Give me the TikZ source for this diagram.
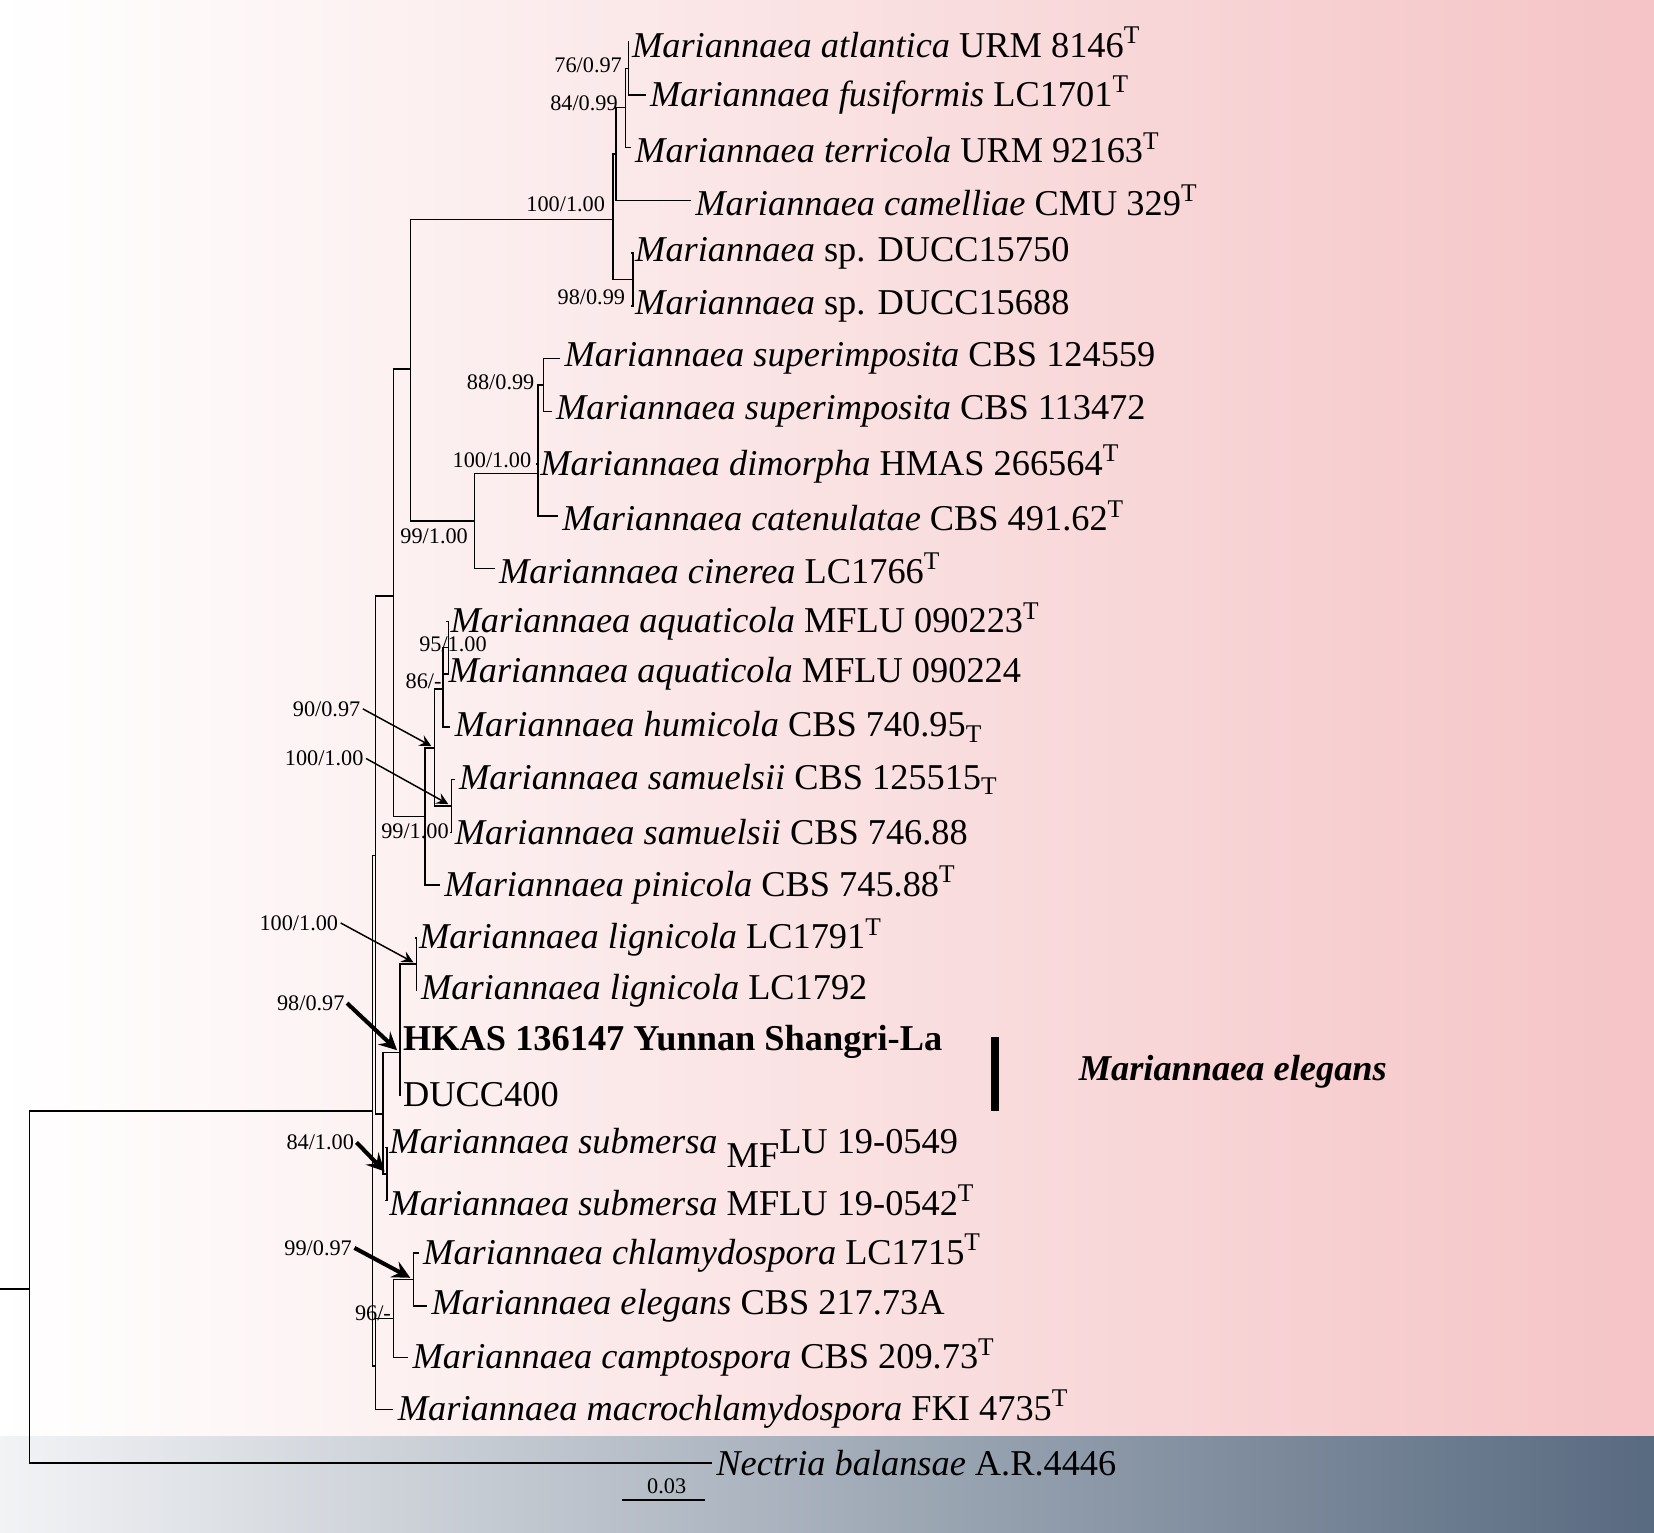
\documentclass[tikz,border=0pt]{standalone}
\usepackage{fontspec}
\setmainfont{Liberation Serif}
\usetikzlibrary{positioning}
\definecolor{rosebg}{RGB}{245,196,198}
\definecolor{slatebg}{RGB}{88,106,128}
\definecolor{mistbg}{RGB}{242,243,245}
\newcommand{\Mar}[1]{\textit{Mariannaea #1}}

\begin{document}
\begin{tikzpicture}[x=0.01cm,y=-0.01cm,>=stealth,thin,
  tip/.style={anchor=west,inner sep=1pt,font=\fontsize{9.8}{11}\selectfont},
  sup/.style={inner sep=0.5pt,font=\fontsize{6}{7}\selectfont},
  pt/.style={->,shorten >=1pt},
  bigpt/.style={->,line width=1.1pt,shorten >=1pt}]

  \useasboundingbox (0,0) rectangle (1568,1453);
  % backgrounds
  \shade[left color=white,right color=rosebg] (0,0) rectangle (1568,1362);
  \shade[left color=mistbg,right color=slatebg] (0,1362) rectangle (1568,1453);

  % tips
  \node[tip] (t1) at (595,40) {\Mar{atlantica} URM 8146\textsuperscript{T}};
  \node[tip] (t2) at (612,90) {\Mar{fusiformis} LC1701\textsuperscript{T}};
  \node[tip] (t3) at (598,140) {\Mar{terricola} URM 92163\textsuperscript{T}};
  \node[tip] (t4) at (655,190) {\Mar{camelliae} CMU 329\textsuperscript{T}};
  \node[tip] (t5) at (598,240) {\textit{Mariannaea} sp. DUCC15750};
  \node[tip] (t6) at (598,290) {\textit{Mariannaea} sp. DUCC15688};
  \node[tip] (t7) at (531,340) {\Mar{superimposita} CBS 124559};
  \node[tip] (t8) at (523,390) {\Mar{superimposita} CBS 113472};
  \node[tip] (t9) at (508,440) {\Mar{dimorpha} HMAS 266564\textsuperscript{T}};
  \node[tip] (t10) at (529,489) {\Mar{catenulatae} CBS 491.62\textsuperscript{T}};
  \node[tip] (t11) at (469,539) {\Mar{cinerea} LC1766\textsuperscript{T}};
  \node[tip] (t12) at (423,589) {\Mar{aquaticola} MFLU 090223\textsuperscript{T}};
  \node[tip] (t13) at (421,639) {\Mar{aquaticola} MFLU 090224};
  \node[tip] (t14) at (427,689) {\Mar{humicola} CBS 740.95\textsubscript{T}};
  \node[tip] (t15) at (431,739) {\Mar{samuelsii} CBS 125515\textsubscript{T}};
  \node[tip] (t16) at (427,789) {\Mar{samuelsii} CBS 746.88};
  \node[tip] (t17) at (417,839) {\Mar{pinicola} CBS 745.88\textsuperscript{T}};
  \node[tip] (t18) at (393,889) {\Mar{lignicola} LC1791\textsuperscript{T}};
  \node[tip] (t19) at (395,939) {\Mar{lignicola} LC1792};
  \node[tip] (t20) at (378,988) {\textbf{HKAS 136147 Yunnan Shangri-La}};
  \node[tip] (t21) at (378,1038) {DUCC400};
  \node[tip] (t22) at (365,1088) {\Mar{submersa} \raisebox{-0.4em}{MF}LU 19-0549};
  \node[tip] (t23) at (365,1138) {\Mar{submersa} MFLU 19-0542\textsuperscript{T}};
  \node[tip] (t24) at (397,1188) {\Mar{chlamydospora} LC1715\textsuperscript{T}};
  \node[tip] (t25) at (405,1238) {\Mar{elegans} CBS 217.73A};
  \node[tip] (t26) at (387,1287) {\Mar{camptospora} CBS 209.73\textsuperscript{T}};
  \node[tip] (t27) at (373,1336) {\Mar{macrochlamydospora} FKI 4735\textsuperscript{T}};
  \node[tip] (t28) at (675,1387) {\textit{Nectria balansae} A.R.4446};

  % internal nodes
  \coordinate (a) at (596,65);
  \coordinate (b) at (593,102);
  \coordinate (c) at (584,146);
  \coordinate (d) at (600,265);
  \coordinate (e) at (581,208);
  \coordinate (f) at (389,350);
  \coordinate (i) at (515,365);
  \coordinate (h) at (510,449);
  \coordinate (g) at (450,494);
  \coordinate (o) at (425,614);
  \coordinate (m) at (420,653);
  \coordinate (n) at (428,764);
  \coordinate (l) at (412,709);
  \coordinate (k) at (403,774);
  \coordinate (j) at (373,565);
  \coordinate (v) at (395,914);
  \coordinate (tt) at (379,998);
  \coordinate (u) at (367,1113);
  \coordinate (s) at (363,1056);
  \coordinate (q) at (356,811);
  \coordinate (x) at (392,1213);
  \coordinate (w) at (373,1250);
  \coordinate (r) at (356,1295);
  \coordinate (p) at (353,1053);
  \coordinate (root) at (28,1222);
  \coordinate (base) at (0,1222);

  % branches
  \draw (a) |- (t1.west) (a) |- (t2.west);
  \draw (b) |- (a) (b) |- (t3.west);
  \draw (c) |- (b) (c) |- (t4.west);
  \draw (d) |- (t5.west) (d) |- (t6.west);
  \draw (e) |- (c) (e) |- (d);
  \draw (i) |- (t7.west) (i) |- (t8.west);
  \draw (h) |- (i) (h) |- (t9.west) (h) |- (t10.west);
  \draw (g) |- (h) (g) |- (t11.west);
  \draw (f) |- (e) (f) |- (g);
  \draw (o) |- (t12.west) (o) |- (t13.west);
  \draw (m) |- (o) (m) |- (t14.west);
  \draw (n) |- (t15.west) (n) |- (t16.west);
  \draw (l) |- (m) (l) |- (n);
  \draw (k) |- (l) (k) |- (t17.west);
  \draw (j) |- (f) (j) |- (k);
  \draw (v) |- (t18.west) (v) |- (t19.west);
  \draw (tt) |- (v) (tt) |- (t20.west) (tt) |- (t21.west);
  \draw (u) |- (t22.west) (u) |- (t23.west);
  \draw (s) |- (tt) (s) |- (u);
  \draw (q) |- (j) (q) |- (s);
  \draw (x) |- (t24.west) (x) |- (t25.west);
  \draw (w) |- (x) (w) |- (t26.west);
  \draw (r) |- (w) (r) |- (t27.west);
  \draw (p) |- (q) (p) |- (r);
  \draw (root) |- (p) (root) |- (t28.west);
  \draw (base) -- (root);

  % support values
  \node[sup,anchor=east] at (592,62) {76/0.97};
  \node[sup,anchor=east] at (588,98) {84/0.99};
  \node[sup,anchor=east] at (576,194) {100/1.00};
  \node[sup,anchor=east] at (595,282) {98/0.99};
  \node[sup,anchor=east] at (509,362) {88/0.99};
  \node[sup,anchor=east] at (506,436) {100/1.00};
  \node[sup,anchor=east] at (446,508) {99/1.00};
  \node[sup,anchor=west] at (395,611) {95/1.00};
  \node[sup,anchor=east] at (421,646) {86/-};
  \node[sup,anchor=west] at (359,788) {99/1.00};
  \node[sup,anchor=east] at (373,1245) {96/-};

  \node[sup,anchor=east] (sl) at (344,672) {90/0.97};
  \node[sup,anchor=east] (sn) at (347,719) {100/1.00};
  \node[sup,anchor=east] (sv) at (323,875) {100/1.00};
  \node[sup,anchor=east] (st) at (329,951) {98/0.97};
  \node[sup,anchor=east] (su) at (338,1083) {84/1.00};
  \node[sup,anchor=east] (sx) at (336,1183) {99/0.97};
  \draw[pt] (sl.east) -- (l);
  \draw[pt] (sn.east) -- (n);
  \draw[pt] (sv.east) -- (v);
  \draw[bigpt] (st.east) -- (tt);
  \draw[bigpt] (su.east) -- (u);
  \draw[bigpt] (sx.east) -- (x);

  % clade bar
  \coordinate (bartop) at (943,983);
  \coordinate (barbot) at (943,1053);
  \draw[line width=2.2pt] (bartop) -- (barbot);
  \node[anchor=west,inner sep=0pt,font=\fontsize{9.8}{11}\selectfont\bfseries\itshape]
    (clade) at (1022,1016) {Mariannaea elegans};

  % scale bar
  \coordinate (sc1) at (590,1422);
  \coordinate (sc2) at (668,1422);
  \draw (sc1) -- (sc2);
  \node[sup] (scl) at (632,1409) {0.03};
\end{tikzpicture}
\end{document}
